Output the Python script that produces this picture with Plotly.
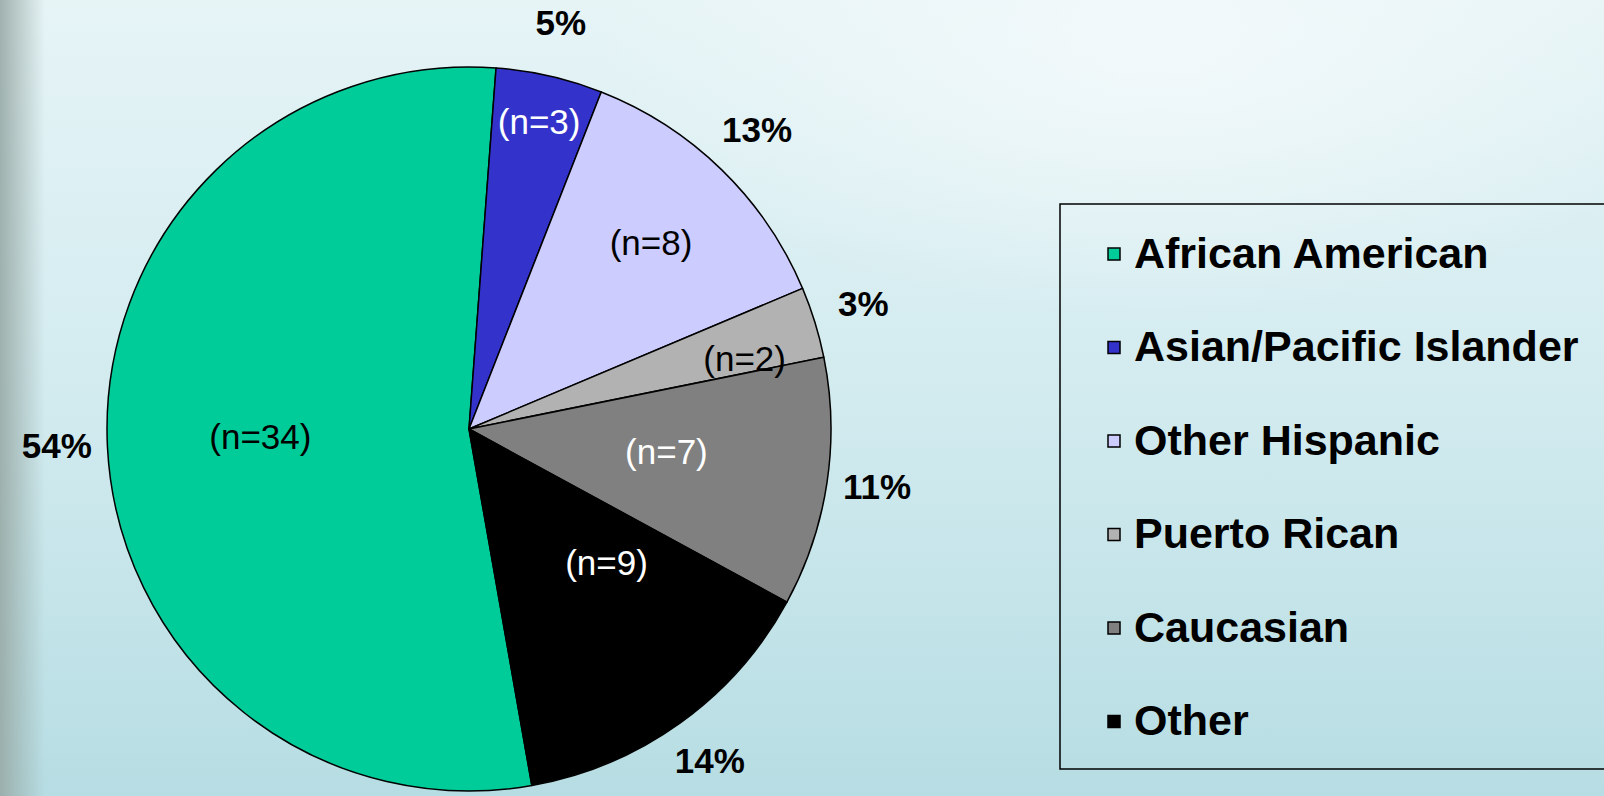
import base64
import math
import plotly.graph_objects as go

# ---------------- data ----------------
categories = ["African American", "Asian/Pacific Islander", "Other Hispanic",
              "Puerto Rican", "Caucasian", "Other"]
counts = [34, 3, 8, 2, 7, 9]

# ---------------- style ----------------
slice_colors = ["#00CC99", "#3333CC", "#CCCCFF", "#B2B2B2", "#808080", "#000000"]
n_text_colors = ["black", "white", "black", "black", "white", "white"]
FONT = "Liberation Sans, Arial, sans-serif"
W, H = 1604, 796
CX, CY = 469, 429          # pie centre (px from left / top)
R = 362                    # pie radius (px)
ROTATION = 170             # start angle of the first slice (deg, clockwise from 12 o'clock)
PCT_RADIUS = 1.14          # percent labels, as a fraction of the pie radius
TRANSPARENT = "rgba(0,0,0,0)"


def domain(r):
    return dict(x=[(CX - r) / W, (CX + r) / W],
                y=[(H - CY - r) / H, (H - CY + r) / H])


common = dict(values=counts, sort=False, direction="clockwise", rotation=ROTATION)

# legend labels: big text, second blank line to give the tall spacing
legend_labels = [f"<span style='font-size:43px'>{c}</span><br>&nbsp;" for c in categories]

fig = go.Figure()

# main coloured pie – n labels inside for the thin upper slices
fig.add_trace(go.Pie(
    labels=legend_labels, **common,
    marker=dict(colors=slice_colors, line=dict(color="black", width=1.5)),
    texttemplate="(n=%{value})",
    textposition=["none", "inside", "inside", "none", "none", "none"],
    insidetextorientation="horizontal",
    textfont=dict(family=FONT, size=35, color=n_text_colors),
    domain=domain(R), showlegend=True,
    hovertemplate="%{value}<extra>%{percent}</extra>",
))


# helper pies (transparent) used only to place the remaining n labels
def helper(r, positions):
    fig.add_trace(go.Pie(
        labels=categories, **common,
        marker=dict(colors=[TRANSPARENT] * len(counts), line=dict(width=0)),
        texttemplate="(n=%{value})", textposition=positions,
        textfont=dict(family=FONT, size=35, color=n_text_colors),
        domain=domain(r), showlegend=False, hoverinfo="skip",
    ))


helper(148, ["outside", "none", "none", "none", "outside", "outside"])
helper(235, ["none", "none", "none", "outside", "none", "none"])

# percent labels: hidden cartesian axes measured in pie radii, centred on the pie
total = sum(counts)
mid_angles, pct_labels, acc = [], [], 0
for c in counts:
    mid_angles.append(ROTATION + (acc + c / 2) / total * 360)
    pct_labels.append(f"{round(100 * c / total)}%")
    acc += c
pct_x = [PCT_RADIUS * math.sin(math.radians(a)) for a in mid_angles]
pct_y = [PCT_RADIUS * math.cos(math.radians(a)) for a in mid_angles]

fig.add_trace(go.Scatter(
    x=pct_x, y=pct_y, text=pct_labels,
    mode="text", textposition="middle center", cliponaxis=False,
    textfont=dict(family=FONT, size=35, color="black", weight="bold"),
    showlegend=False, hoverinfo="skip",
))

# background gradient
svg = (
    "<svg xmlns='http://www.w3.org/2000/svg' width='1604' height='796'>"
    "<defs>"
    "<linearGradient id='g' x1='0' y1='0' x2='0' y2='1'>"
    "<stop offset='0' stop-color='#e6f4f6'/>"
    "<stop offset='0.5' stop-color='#d2ebef'/>"
    "<stop offset='1' stop-color='#b6dde3'/></linearGradient>"
    "<linearGradient id='l' x1='0' y1='0' x2='1' y2='0'>"
    "<stop offset='0' stop-color='#98aaa6' stop-opacity='0.9'/>"
    "<stop offset='1' stop-color='#98aaa6' stop-opacity='0'/></linearGradient>"
    "<radialGradient id='w' cx='0.72' cy='0.05' r='0.35'>"
    "<stop offset='0' stop-color='#f4fafb' stop-opacity='0.9'/>"
    "<stop offset='1' stop-color='#f4fafb' stop-opacity='0'/></radialGradient>"
    "</defs>"
    "<rect width='1604' height='796' fill='url(#g)'/>"
    "<rect width='1604' height='796' fill='url(#w)'/>"
    "<rect width='45' height='796' fill='url(#l)'/>"
    "</svg>"
)
bg_src = "data:image/svg+xml;base64," + base64.b64encode(svg.encode()).decode()

fig.update_layout(
    width=W, height=H,
    margin=dict(l=0, r=0, t=0, b=0),
    paper_bgcolor="#d4ecf0",
    plot_bgcolor=TRANSPARENT,
    font=dict(family=FONT, color="black"),
    images=[dict(source=bg_src, xref="paper", yref="paper", x=0, y=1,
                 sizex=1, sizey=1, sizing="stretch", layer="below",
                 xanchor="left", yanchor="top")],
    xaxis=dict(range=[-CX / R, (W - CX) / R], visible=False, fixedrange=True),
    yaxis=dict(range=[-(H - CY) / R, CY / R], visible=False, fixedrange=True),
    legend=dict(
        x=1094 / W, y=1 - 225 / H, xanchor="left", yanchor="top",
        font=dict(family=FONT, size=34.8, color="black", weight="bold"),
        bgcolor=TRANSPARENT, borderwidth=0, valign="top",
        traceorder="normal",
    ),
    shapes=[dict(type="rect", xref="paper", yref="paper",
                 x0=1060 / W, x1=1.01, y0=1 - 769 / H, y1=1 - 204 / H,
                 line=dict(color="black", width=1.5), fillcolor=TRANSPARENT)],
)

fig.write_html(
    "out.html",
    config={"displayModeBar": False},
    post_script="document.body.style.margin='0';"
                "document.documentElement.style.overflow='hidden';",
)
